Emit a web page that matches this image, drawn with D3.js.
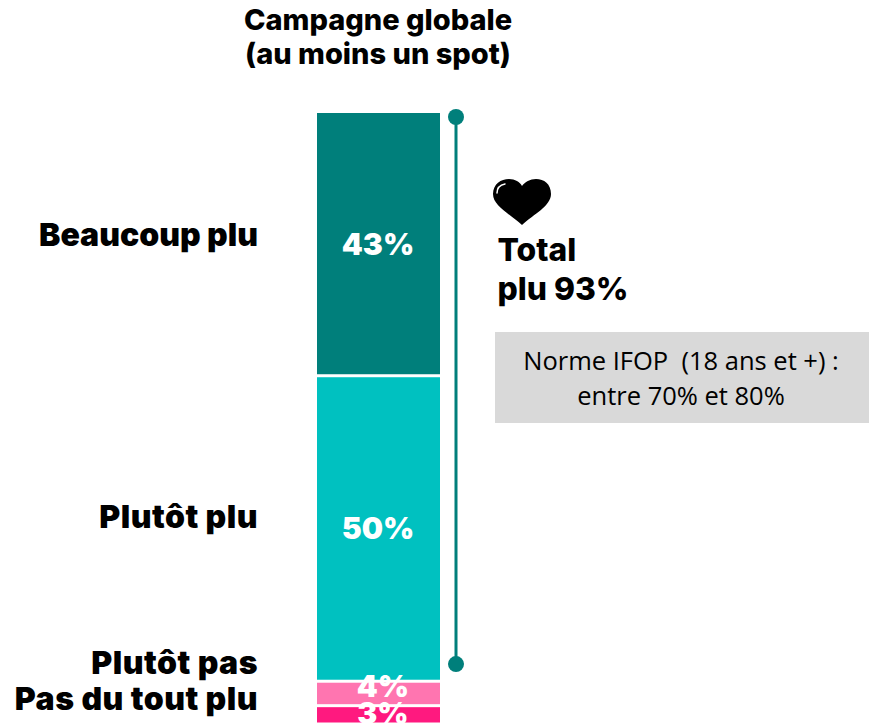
<!DOCTYPE html>
<html><head><meta charset="utf-8">
<script src="https://cdnjs.cloudflare.com/ajax/libs/d3/7.8.5/d3.min.js"></script>
<style>html,body{margin:0;padding:0;background:#fff}svg{display:block}
text{font-family:Inter,"Noto Sans",sans-serif;font-weight:800;fill:#000}
text.cat,text.pct{font-weight:900}</style>
</head><body><svg id="c" width="869" height="724"></svg>
<script>
const categories=["Beaucoup plu","Plutôt plu","Plutôt pas","Pas du tout plu"];
const values=[43,50,4,3];
const colors=["#007f7b","#00c1c0","#ff75b0","#ff197f"];
const titleLines=["Campagne globale","(au moins un spot)"];
const totalLines=["Total","plu 93%"];
const normeLines=["Norme IFOP  (18 ans et +) :","entre 70% et 80%"];
const labelY=[235,517,663,699];
const pctY=[244,528,686,713];
const pctX=[378,378,383,383];
const bracketEnds=[0.65,90.2];

const svg=d3.select("#c");
const y=d3.scaleLinear().domain([0,100]).range([113,724]);
let cum=0;
const stack=values.map((v,i)=>{const s={i,v,y0:cum,y1:cum+v};cum+=v;return s;});

svg.selectAll("rect.seg").data(stack).join("rect").attr("class","seg")
 .attr("x",317).attr("width",123)
 .attr("y",d=>y(d.y0)+(d.i?1.5:0))
 .attr("height",d=>y(d.y1)-y(d.y0)-(d.i?1.5:0)-1.5)
 .attr("fill",d=>colors[d.i]);

svg.selectAll("text.cat").data(categories).join("text").attr("class","cat")
 .attr("x",258).attr("y",(d,i)=>labelY[i]).attr("dy","0.35em")
 .attr("text-anchor","end").attr("font-size",32)
 .style("letter-spacing",(d,i)=>i?"0.5px":"0").text(d=>d);

svg.selectAll("text.pct").data(stack).join("text").attr("class","pct")
 .attr("x",d=>pctX[d.i]).attr("y",d=>pctY[d.i]).attr("dy","0.36em")
 .attr("text-anchor","middle").attr("font-size",30).style("fill","#fff")
 .text(d=>d.v+"%");

svg.selectAll("text.title").data(titleLines).join("text").attr("class","title")
 .attr("x",378).attr("y",(d,i)=>20+i*34).attr("dy","0.35em")
 .attr("text-anchor","middle").attr("font-size",29).text(d=>d);

svg.append("line").attr("x1",456).attr("x2",456)
 .attr("y1",y(bracketEnds[0])).attr("y2",y(bracketEnds[1]))
 .attr("stroke","#007f7b").attr("stroke-width",3);
svg.selectAll("circle.end").data(bracketEnds).join("circle").attr("class","end")
 .attr("cx",456).attr("cy",d=>y(d)).attr("r",8).attr("fill","#007f7b");

// heart icon
const p=d3.path();
p.moveTo(522,225);
p.bezierCurveTo(510,214,493,206,493,194);
p.bezierCurveTo(493,184,501,179,509,179);
p.bezierCurveTo(515,179,520,182,522,186);
p.bezierCurveTo(525,182,530,179,536,179);
p.bezierCurveTo(544,179,551,184,551,194);
p.bezierCurveTo(551,206,534,214,522,225);
p.closePath();
svg.append("path").attr("d",p.toString()).attr("fill","#000");
svg.append("path").attr("d","M497 193 C497 188 500 185 505 184").attr("fill","none").attr("stroke","#fff").attr("stroke-width",1.5).attr("stroke-linecap","round");

svg.selectAll("text.total").data(totalLines).join("text").attr("class","total")
 .attr("x",497.5).attr("y",(d,i)=>250+i*38.5).attr("dy","0.35em")
 .attr("font-size",31.8).text(d=>d);

svg.append("rect").attr("x",495).attr("y",332).attr("width",374).attr("height",91).attr("fill","#d9d9d9");
svg.selectAll("text.norme").data(normeLines).join("text").attr("class","norme")
 .attr("x",681).attr("y",(d,i)=>361+i*35).attr("dy","0.35em")
 .attr("text-anchor","middle").attr("font-size",25.5)
 .style("white-space","pre")
 .style("font-family","'Open Sans',sans-serif").style("font-weight",400).text(d=>d);
</script></body></html>
